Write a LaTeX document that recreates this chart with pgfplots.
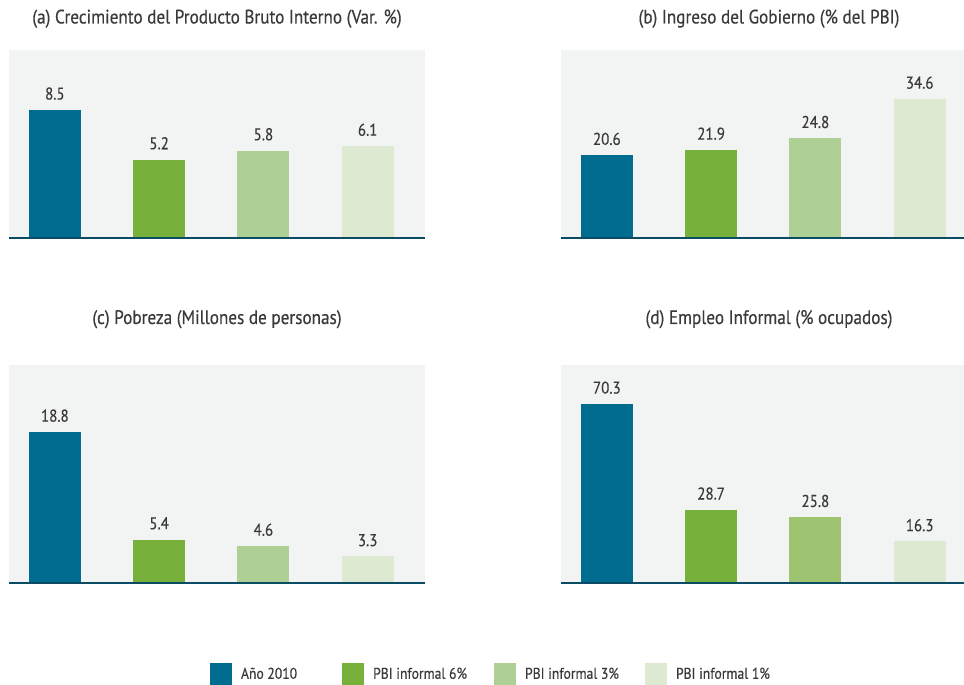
\documentclass[border=0pt]{standalone}
\usepackage{pgfplots}
\pgfplotsset{compat=1.18}
\usepackage{fontspec}
\setmainfont[FakeStretch=0.88, FakeBold=0.35]{PT Sans}
\definecolor{anio}{RGB}{0,108,143}
\definecolor{inf6}{RGB}{119,176,59}
\definecolor{inf3}{RGB}{175,208,149}
\definecolor{inf3d}{RGB}{158,195,113}
\definecolor{inf1}{RGB}{221,233,209}
\definecolor{panelbg}{RGB}{242,244,243}
\definecolor{baseline}{RGB}{12,75,100}
\definecolor{txt}{RGB}{58,58,58}

\pgfplotsset{
  panel/.style={
    scale only axis, width=416pt,
    xmin=0.56, xmax=4.55, ymin=0,
    axis y line=none, axis x line*=bottom,
    x axis line style={draw=baseline, line width=2.2pt, -},
    xtick=\empty, ytick=\empty,
    axis background/.style={fill=panelbg},
    axis on top,
    ybar, bar width=52pt, bar shift=0pt,
    nodes near coords,
    every node near coord/.append style={font=\fontsize{17}{17}\selectfont, text=txt, anchor=south, inner sep=0pt, yshift=10pt},
    /pgf/number format/fixed, /pgf/number format/precision=1,
    /pgf/number format/fixed zerofill, /pgf/number format/assume math mode=true,
    title style={font=\fontsize{19.5}{21}\selectfont, text=txt, anchor=base, at={(0.5,1)}, inner sep=0pt},
  },
}

\begin{document}
\begin{tikzpicture}
\path[use as bounding box, clip] (0,0) rectangle (964pt,685pt);

% (a)
\begin{axis}[panel, at={(9pt,447pt)}, anchor=south west, height=188pt, ymax=12.48,
  title={(a) Crecimiento del Producto Bruto Interno (Var. \%)}, title style={yshift=20.5pt}]
\addplot[fill=anio, draw=none] coordinates {(1,8.5)};
\addplot[fill=inf6, draw=none] coordinates {(2,5.2)};
\addplot[fill=inf3, draw=none] coordinates {(3,5.8)};
\addplot[fill=inf1, draw=none] coordinates {(4,6.1)};
\end{axis}

% (b)
\begin{axis}[panel, at={(561pt,447pt)}, anchor=south west, height=188pt, ymax=46.8,
  title={(b) Ingreso del Gobierno (\% del PBI)}, title style={yshift=20.5pt}]
\addplot[fill=anio, draw=none] coordinates {(1,20.6)};
\addplot[fill=inf6, draw=none] coordinates {(2,21.9)};
\addplot[fill=inf3, draw=none] coordinates {(3,24.8)};
\addplot[fill=inf1, draw=none] coordinates {(4,34.6)};
\end{axis}

% (c)
\begin{axis}[panel, at={(9pt,102pt)}, anchor=south west, height=218pt, ymax=27.14,
  title={(c) Pobreza (Millones de personas)}, title style={yshift=35pt},
  legend columns=4,
  legend image code/.code={\fill[#1, draw=none] (0pt,-11pt) rectangle (22pt,11pt);},
  legend style={at={(0.4832,-0.4174)}, anchor=west, draw=none, fill=none,
    inner sep=0pt, outer sep=0pt, font=\fontsize{15.5}{17}\selectfont, text=txt,
    nodes={inner sep=0pt},
    /tikz/column 1/.style={column sep=9pt},
    /tikz/column 2/.style={column sep=45pt},
    /tikz/column 3/.style={column sep=9pt},
    /tikz/column 4/.style={column sep=27pt},
    /tikz/column 5/.style={column sep=9pt},
    /tikz/column 6/.style={column sep=26pt},
    /tikz/column 7/.style={column sep=9pt}}]
\addplot[fill=anio, draw=none] coordinates {(1,18.8)};
\addplot[fill=inf6, draw=none] coordinates {(2,5.4)};
\addplot[fill=inf3, draw=none] coordinates {(3,4.6)};
\addplot[fill=inf1, draw=none] coordinates {(4,3.3)};
\legend{Año 2010, PBI informal 6\%, PBI informal 3\%, PBI informal 1\%}
\end{axis}

% (d)
\begin{axis}[panel, at={(561pt,102pt)}, anchor=south west, height=218pt, ymax=85.6,
  title={(d) Empleo Informal (\% ocupados)}, title style={yshift=35pt}]
\addplot[fill=anio, draw=none] coordinates {(1,70.3)};
\addplot[fill=inf6, draw=none] coordinates {(2,28.7)};
\addplot[fill=inf3d, draw=none] coordinates {(3,25.8)};
\addplot[fill=inf1, draw=none] coordinates {(4,16.3)};
\end{axis}
\end{tikzpicture}
\end{document}
